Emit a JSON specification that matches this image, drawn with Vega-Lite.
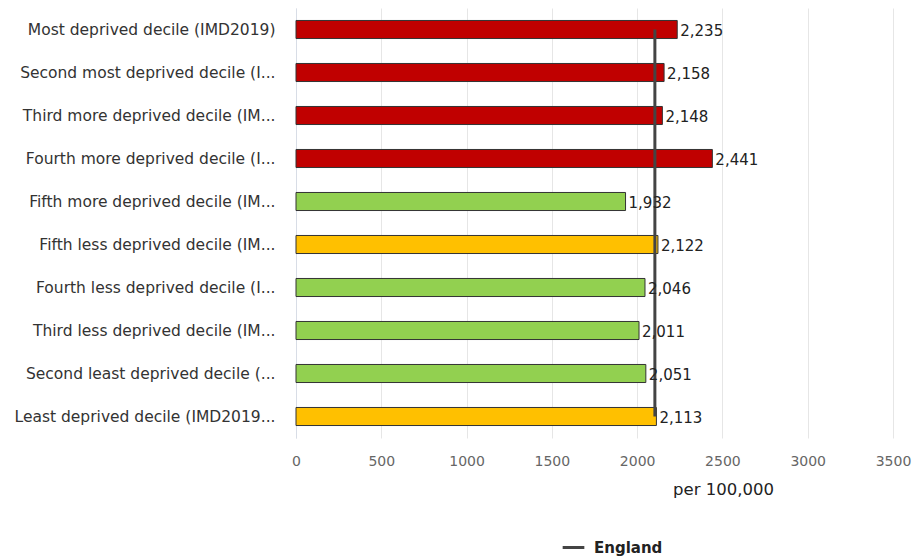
{
  "$schema": "https://vega.github.io/schema/vega-lite/v6.json",
  "width": 597,
  "height": 430,
  "padding": {"left": 14, "top": 8, "right": 2, "bottom": 5},
  "background": "white",
  "config": {"view": {"stroke": null}, "font": "DejaVu Sans"},
  "data": {
    "values": [
      {"decile": "Most deprived decile (IMD2019)", "value": 2235, "significance": "Higher", "england": 2104, "benchmark": "England"},
      {"decile": "Second most deprived decile (I...", "value": 2158, "significance": "Higher", "england": 2104, "benchmark": "England"},
      {"decile": "Third more deprived decile (IM...", "value": 2148, "significance": "Higher", "england": 2104, "benchmark": "England"},
      {"decile": "Fourth more deprived decile (I...", "value": 2441, "significance": "Higher", "england": 2104, "benchmark": "England"},
      {"decile": "Fifth more deprived decile (IM...", "value": 1932, "significance": "Lower", "england": 2104, "benchmark": "England"},
      {"decile": "Fifth less deprived decile (IM...", "value": 2122, "significance": "Similar", "england": 2104, "benchmark": "England"},
      {"decile": "Fourth less deprived decile (I...", "value": 2046, "significance": "Lower", "england": 2104, "benchmark": "England"},
      {"decile": "Third less deprived decile (IM...", "value": 2011, "significance": "Lower", "england": 2104, "benchmark": "England"},
      {"decile": "Second least deprived decile (...", "value": 2051, "significance": "Lower", "england": 2104, "benchmark": "England"},
      {"decile": "Least deprived decile (IMD2019...", "value": 2113, "significance": "Similar", "england": 2104, "benchmark": "England"}
    ]
  },
  "encoding": {
    "y": {
      "field": "decile",
      "type": "nominal",
      "sort": null,
      "scale": {"paddingInner": 0.58, "paddingOuter": 0.29},
      "axis": {
        "title": null,
        "ticks": false,
        "domain": true,
        "domainColor": "#d8dde6",
        "labelFontSize": 15.5,
        "labelColor": "#333333",
        "labelPadding": 21,
        "labelLimit": 400
      }
    }
  },
  "layer": [
    {
      "mark": {"type": "bar", "stroke": "#333333", "strokeWidth": 1},
      "encoding": {
        "x": {
          "field": "value",
          "type": "quantitative",
          "scale": {"domain": [0, 3500], "nice": false},
          "axis": {
            "values": [0, 500, 1000, 1500, 2000, 2500, 3000, 3500],
            "format": "d",
            "domain": false,
            "ticks": false,
            "labelFlush": false,
            "labelOverlap": false,
            "gridColor": "#e6e6e6",
            "labelFontSize": 14,
            "labelColor": "#666666",
            "labelPadding": 16,
            "title": "per 100,000",
            "titleFontSize": 16.5,
            "titleFontWeight": "normal",
            "titleColor": "#222222",
            "titleX": 427,
            "titleY": 51,
            "titleBaseline": "middle",
            "titleAlign": "center"
          }
        },
        "color": {
          "field": "significance",
          "type": "nominal",
          "scale": {"domain": ["Higher", "Similar", "Lower"], "range": ["#C00000", "#FFC000", "#92D050"]},
          "legend": null
        }
      }
    },
    {
      "mark": {"type": "line", "strokeWidth": 3},
      "encoding": {
        "x": {"field": "england", "type": "quantitative"},
        "stroke": {
          "field": "benchmark",
          "type": "nominal",
          "scale": {"domain": ["England"], "range": ["#444444"]},
          "legend": {
            "title": null,
            "orient": "none",
            "legendX": 265,
            "legendY": 527,
            "symbolType": "stroke",
            "symbolStrokeWidth": 3,
            "symbolSize": 470,
            "labelFontSize": 15,
            "labelFontWeight": "bold",
            "labelColor": "#222222",
            "labelOffset": 8
          }
        }
      }
    },
    {
      "mark": {"type": "text", "align": "left", "baseline": "middle", "dx": 3, "dy": 1, "fontSize": 15, "color": "#222222"},
      "encoding": {
        "x": {"field": "value", "type": "quantitative"},
        "text": {"field": "value", "type": "quantitative", "format": ","}
      }
    }
  ]
}
